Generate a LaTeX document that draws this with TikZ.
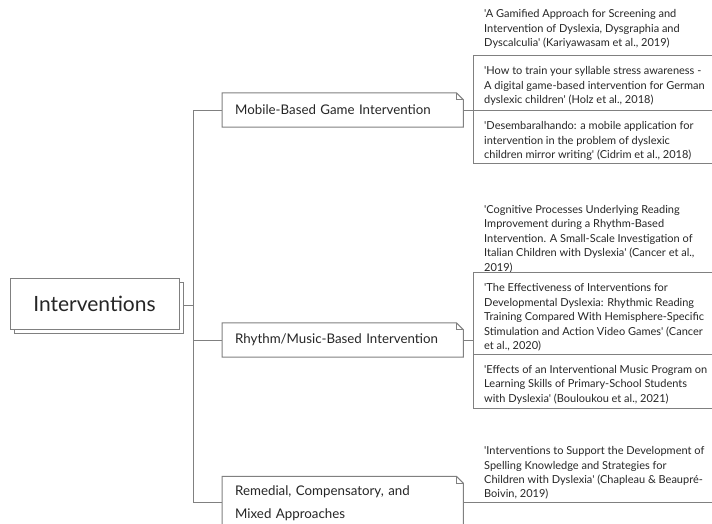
\documentclass[tikz,border=0pt]{standalone}
\usepackage{fontspec}
\setmainfont{Lato}[Ligatures=TeXOff]
\usetikzlibrary{positioning, calc}

\newcommand{\foldbox}[1]{%
  \draw[boxline, fill=white] (#1.north west) -- ([xshift=-7pt]#1.north east) -- ([yshift=-7pt]#1.north east) -- (#1.south east) -- (#1.south west) -- cycle;
  \draw[boxline] ([xshift=-7pt]#1.north east) -- ([xshift=-7pt, yshift=-7pt]#1.north east) -- ([yshift=-7pt]#1.north east);}

\begin{document}
\begin{tikzpicture}[x=1pt, y=-1pt,
        line/.style={draw=black!50, line width=1pt},
        boxline/.style={draw=black!50, line width=1pt},
        rootbox/.style={rectangle, draw=black!50, line width=1pt, fill=white, minimum width=169pt, minimum height=51pt, font=\fontsize{21}{25}\selectfont, text=black!85},
        topic/.style={rectangle, anchor=west, minimum width=241pt, text width=215pt, inner xsep=13pt, inner ysep=0pt, align=left, font=\fontsize{13.3}{23}\selectfont, text=black!85},
        leaf/.style={anchor=west, align=left, inner sep=0pt, font=\fontsize{11}{14.4}\selectfont, text=black!85}
    ]
        \useasboundingbox (0,0) rectangle (712,523);
        \clip (0,0) rectangle (712,523);

        % Root
        \draw[boxline, fill=white] (14,282) rectangle (183,333);
        \node[rootbox] (root) at (94.5,303.5) {Interventions};
        \coordinate (trunk) at (193,305);
        \draw[line] (183,305) -- (trunk);

        % Branches
        \node[topic, minimum height=34pt] (mobile) at (222,110) {\phantom{M}};
        \node[topic, minimum height=34pt] (rhythm) at (222,340) {\phantom{R}};
        \node[topic, minimum height=51pt] (remedial) at (222,502) {\phantom{R}};
        \foldbox{mobile}
        \foldbox{rhythm}
        \foldbox{remedial}
        \node[topic, minimum height=34pt] at (mobile.west) {Mobile-Based Game Intervention};
        \node[topic, minimum height=34pt] at (rhythm.west) {Rhythm/Music-Based Intervention};
        \node[topic, minimum height=51pt] at ([yshift=-1pt]remedial.west) {Remedial, Compensatory, and\\Mixed Approaches};

        \draw[line] (mobile.west -| trunk) -- (remedial.west -| trunk);
        \draw[line] (mobile.west -| trunk) -- (mobile.west);
        \draw[line] (rhythm.west -| trunk) -- (rhythm.west);
        \draw[line] (remedial.west -| trunk) -- (remedial.west);

        % Leaves mobile
        \node[leaf] (gamified) at (484,29) {'A Gamified Approach for Screening and\\Intervention of Dyslexia, Dysgraphia and\\Dyscalculia' (Kariyawasam et al., 2019)};
        \node[leaf] (syllable) at (484,86) {'How to train your syllable stress awareness -\\A digital game-based intervention for German\\dyslexic children' (Holz et al., 2018)};
        \node[leaf] (mirror) at (484,141) {'Desembaralhando: a mobile application for\\intervention in the problem of dyslexic\\children mirror writing' (Cidrim et al., 2018)};
        \coordinate (mspine) at (473,110);
        \draw[line] (mobile.east) -- (mspine);
        \draw[line] (473,55) -- (473,163);
        \draw[line] (473,55) -- (720,55);
        \draw[line] (473,110) -- (720,110);
        \draw[line] (473,163) -- (720,163);

        % Leaves rhythm
        \node[leaf] (cognitive) at (484,239) {'Cognitive Processes Underlying Reading\\Improvement during a Rhythm-Based\\Intervention. A Small-Scale Investigation of\\Italian Children with Dyslexia' (Cancer et al.,\\2019)};
        \node[leaf] (effective) at (484,317.5) {'The Effectiveness of Interventions for\\Developmental Dyslexia: Rhythmic Reading\\Training Compared With Hemisphere-Specific\\Stimulation and Action Video Games' (Cancer\\et al., 2020)};
        \node[leaf] (music) at (484,384.5) {'Effects of an Interventional Music Program on\\Learning Skills of Primary-School Students\\with Dyslexia' (Bouloukou et al., 2021)};
        \coordinate (rspine) at (473,340);
        \draw[line] (rhythm.east) -- (rspine);
        \draw[line] (473,272) -- (473,408);
        \draw[line] (473,272) -- (720,272);
        \draw[line] (473,354) -- (720,354);
        \draw[line] (473,408) -- (720,408);

        % Leaves remedial
        \node[leaf] (spelling) at (484,473) {'Interventions to Support the Development of\\Spelling Knowledge and Strategies for\\Children with Dyslexia' (Chapleau \& Beaupré-\\Boivin, 2019)};
        \draw[line] (remedial.east) -- (720,502);
    \end{tikzpicture}
\end{document}
